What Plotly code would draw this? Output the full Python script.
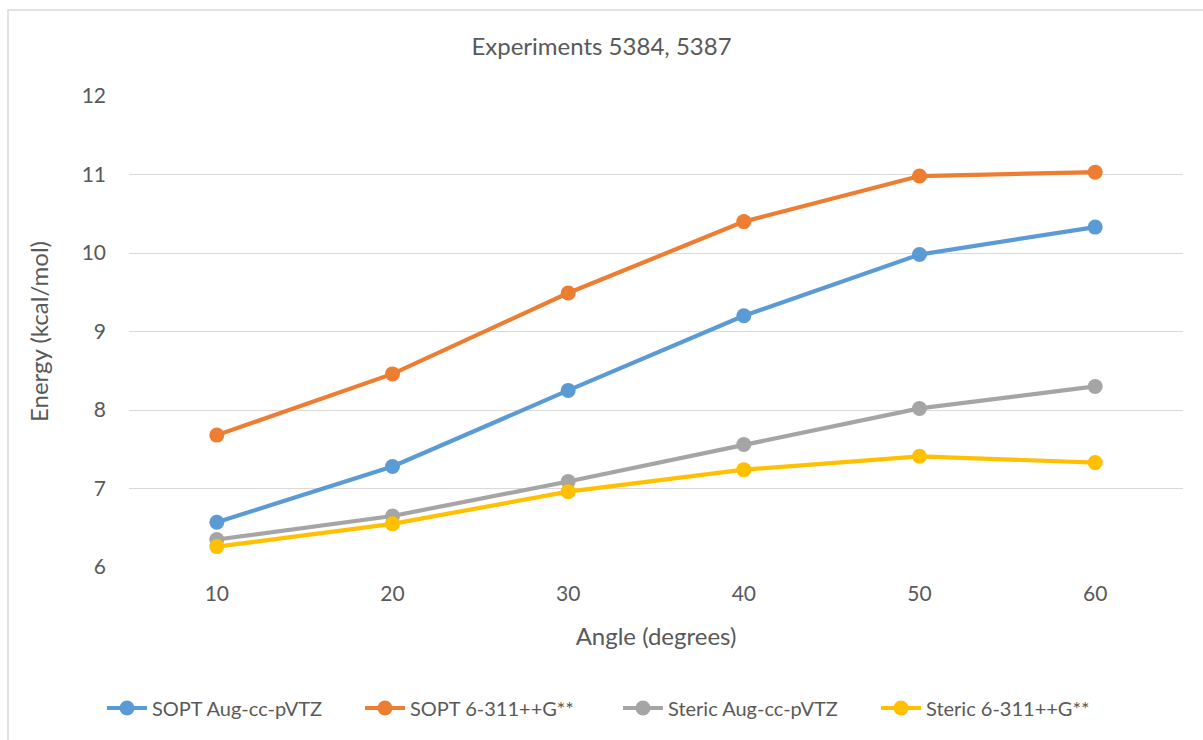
import plotly.graph_objects as go

angles = [10, 20, 30, 40, 50, 60]
sopt_aug = [6.57, 7.28, 8.25, 9.20, 9.98, 10.33]
sopt_631 = [7.68, 8.46, 9.49, 10.40, 10.98, 11.03]
steric_aug = [6.35, 6.65, 7.09, 7.56, 8.02, 8.30]
steric_631 = [6.26, 6.55, 6.96, 7.24, 7.41, 7.33]

series_names = ["SOPT Aug-cc-pVTZ", "SOPT 6-311++G**", "Steric Aug-cc-pVTZ", "Steric 6-311++G**"]
series_values = [sopt_aug, sopt_631, steric_aug, steric_631]
colors = ["#5B9BD5", "#ED7D31", "#A5A5A5", "#FFC000"]

FONT = "Lato, 'Open Sans', sans-serif"
TXT = "#595959"

fig = go.Figure()
for name, vals, c in zip(series_names, series_values, colors):
    fig.add_trace(go.Scatter(
        x=angles, y=vals, name=name, mode="lines+markers",
        line=dict(color=c, width=4.2),
        marker=dict(color=c, size=15),
    ))

L, R, T, B = 129, 20, 96, 173
W, H = 1203, 740
pw = W - L - R
ph = H - T - B

fig.update_layout(
    width=W, height=H,
    margin=dict(l=L, r=R, t=T, b=B, autoexpand=False),
    paper_bgcolor="white", plot_bgcolor="white",
    font=dict(family=FONT, color=TXT, size=21),
    title=dict(text="Experiments 5384, 5387", x=0.5, xanchor="center",
               y=1 - 47 / H, yanchor="middle", font=dict(size=24, color=TXT)),
    xaxis=dict(range=[5, 65], tickvals=angles, ticktext=[str(a) for a in angles],
               showgrid=False, zeroline=False, showline=False, ticks="",
               ticklabelstandoff=12, automargin=False,
               tickfont=dict(size=21, color=TXT),
               title=dict(text="Angle (degrees)", font=dict(size=24, color=TXT), standoff=24)),
    yaxis=dict(range=[6, 12], dtick=1, showgrid=True, gridcolor="#D9D9D9", gridwidth=1.3,
               zeroline=False, showline=False, ticks="", ticklabelstandoff=22, automargin=False,
               tickfont=dict(size=21, color=TXT),
               title=dict(text="Energy (kcal/mol)", font=dict(size=24, color=TXT), standoff=26)),
    legend=dict(orientation="h", x=(618 - L) / pw, xanchor="center", y=-(708 - 567) / ph,
                yanchor="middle",
                font=dict(size=20, color=TXT), itemwidth=40, traceorder="normal",
                entrywidth=203, entrywidthmode="pixels"),
    showlegend=True,
)

fig.add_shape(type="rect", xref="paper", yref="paper",
              x0=(8 - L) / pw, x1=(W + 20 - L) / pw,
              y0=-(H + 20 - (T + ph)) / ph, y1=(T + ph - 10) / ph,
              line=dict(color="#D9D9D9", width=1.5), fillcolor="rgba(0,0,0,0)", layer="below")

fig.write_html("out.html", config={"displayModeBar": False},
               post_script="document.body.style.margin='0';document.body.style.overflow='hidden';")
